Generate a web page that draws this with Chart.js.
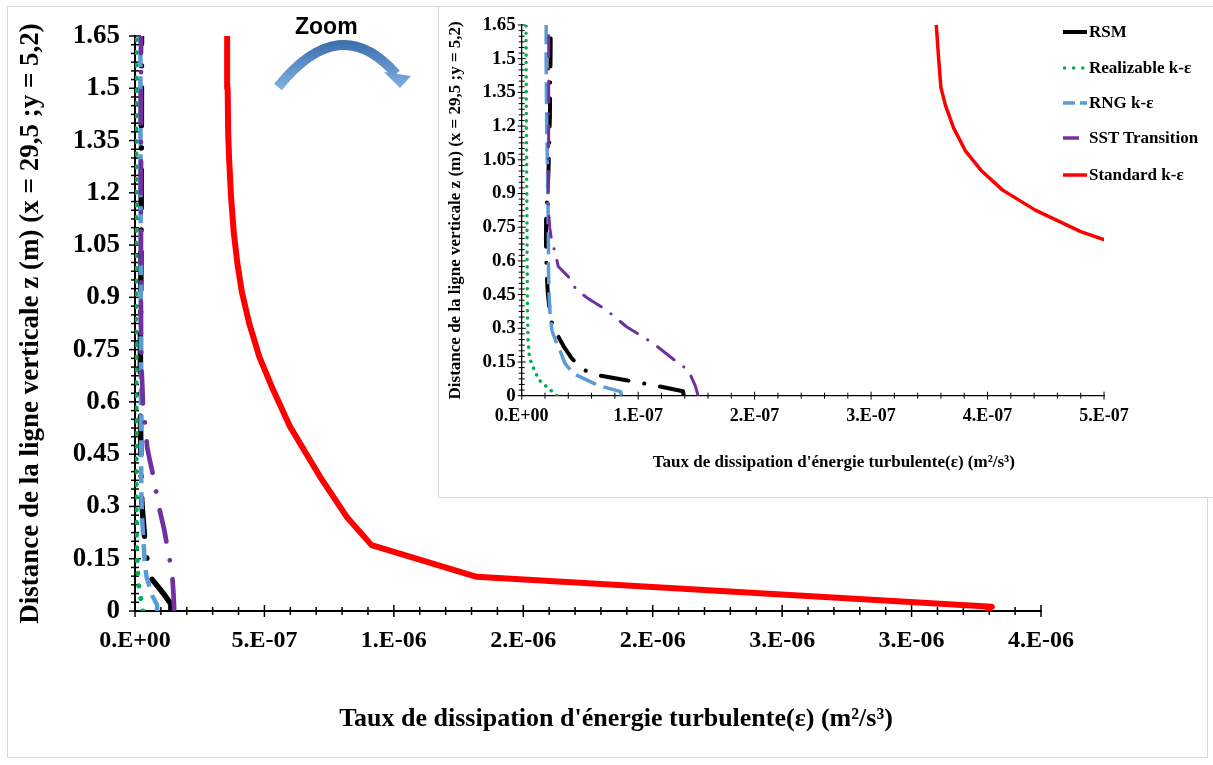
<!DOCTYPE html>
<html>
<head>
<meta charset="utf-8">
<script src="https://cdn.jsdelivr.net/npm/chart.js@4.4.1/dist/chart.umd.min.js"></script>
<style>
  html, body { margin: 0; padding: 0; background: #fff; }
  body { width: 1213px; height: 765px; position: relative; overflow: hidden; }
  #frame { position: absolute; left: 7px; top: 6px; width: 1199px; height: 750px; border: 1px solid #d9d9d9; }
  #main { position: absolute; left: 0; top: 0; }
  #insetBox { position: absolute; left: 438px; top: 6px; width: 774px; height: 490px; border: 1px solid #d9d9d9; background: #fff; }
  #insetBox canvas { position: absolute; left: 0; top: 0; }
  #zoomLabel { position: absolute; left: 295px; top: 15px; font: bold 23px 'Liberation Sans', sans-serif; line-height: 23px; color: #000; }
  #arrow { position: absolute; left: 0; top: 0; }
  #legend { position: absolute; left: 1063px; top: 0; }
  .row { position: absolute; left: 0; height: 20px; display: flex; align-items: center; white-space: nowrap;
         font: bold 17px 'Liberation Serif', serif; color: #000; }
  .row svg { flex: none; }
</style>
</head>
<body>
<div id="frame"></div>
<canvas id="main" width="1213" height="765"></canvas>
<div id="zoomLabel">Zoom</div>
<svg id="arrow" width="450" height="100">
  <defs>
    <linearGradient id="ag" gradientUnits="userSpaceOnUse" x1="0" y1="42" x2="0" y2="88">
      <stop offset="0" stop-color="#3b6fad"/>
      <stop offset="1" stop-color="#7fb0e2"/>
    </linearGradient>
  </defs>
  <path d="M 278 87 Q 340 10 396 74" fill="none" stroke="url(#ag)" stroke-width="10"/>
  <polygon points="384,72 411,76 400,88" fill="url(#ag)"/>
</svg>
<div id="insetBox"><canvas id="inset" width="774" height="490"></canvas></div>
<div id="legend"></div>

<script>
// vertical distance z (m) and dissipation rate eps (m2/s3), one pair per model
const zRSM   = [0, 0.02, 0.045, 0.07, 0.092, 0.117, 0.166, 0.22, 0.277, 0.31, 0.36, 0.45, 0.54, 0.62, 0.7, 0.8, 0.9, 1.0, 1.1, 1.24, 1.39, 1.52, 1.65];
const epsRSM = [1.39e-7, 1.385e-7, 1.15e-7, 0.886e-7, 0.643e-7, 0.523e-7, 0.43e-7, 0.36e-7, 0.30e-7, 0.265e-7, 0.245e-7, 0.225e-7, 0.215e-7, 0.21e-7, 0.208e-7, 0.21e-7, 0.222e-7, 0.23e-7, 0.235e-7, 0.242e-7, 0.245e-7, 0.248e-7, 0.25e-7];

const zReal   = [0, 0.02, 0.04, 0.07, 0.107, 0.17, 0.25, 0.35, 0.5, 0.65, 0.8, 0.95, 1.1, 1.25, 1.4, 1.55, 1.65];
const epsReal = [0.30e-7, 0.26e-7, 0.214e-7, 0.15e-7, 0.114e-7, 0.066e-7, 0.055e-7, 0.05e-7, 0.048e-7, 0.046e-7, 0.045e-7, 0.043e-7, 0.042e-7, 0.04e-7, 0.039e-7, 0.038e-7, 0.037e-7];

const zRNG   = [0, 0.018, 0.045, 0.099, 0.144, 0.2, 0.233, 0.29, 0.35, 0.45, 0.55, 0.65, 0.75, 0.9, 1.05, 1.2, 1.35, 1.5, 1.65];
const epsRNG = [0.857e-7, 0.85e-7, 0.66e-7, 0.443e-7, 0.371e-7, 0.33e-7, 0.30e-7, 0.26e-7, 0.245e-7, 0.235e-7, 0.23e-7, 0.23e-7, 0.228e-7, 0.225e-7, 0.22e-7, 0.215e-7, 0.212e-7, 0.21e-7, 0.21e-7];

const zSST   = [0, 0.045, 0.114, 0.151, 0.188, 0.233, 0.307, 0.35, 0.38, 0.433, 0.47, 0.53, 0.575, 0.64, 0.69, 0.75, 0.83, 0.9, 1.05, 1.2, 1.35, 1.5, 1.65];
const epsSST = [1.515e-7, 1.49e-7, 1.43e-7, 1.33e-7, 1.24e-7, 1.13e-7, 0.9e-7, 0.8e-7, 0.73e-7, 0.57e-7, 0.47e-7, 0.40e-7, 0.314e-7, 0.286e-7, 0.257e-7, 0.24e-7, 0.23e-7, 0.228e-7, 0.23e-7, 0.232e-7, 0.232e-7, 0.232e-7, 0.232e-7];

const zStd   = [0, 0.012, 0.098, 0.189, 0.27, 0.385, 0.457, 0.529, 0.634, 0.73, 0.826, 0.915, 1.0, 1.09, 1.19, 1.29, 1.37, 1.5, 1.65];
const epsStd = [3.285e-6, 3.31e-6, 1.32e-6, 9.14e-7, 8.18e-7, 7.15e-7, 6.57e-7, 5.99e-7, 5.34e-7, 4.80e-7, 4.41e-7, 4.13e-7, 3.95e-7, 3.81e-7, 3.71e-7, 3.64e-7, 3.60e-7, 3.58e-7, 3.56e-7];

const seriesNames = ['RSM', 'Realizable k-ε', 'RNG k-ε', 'SST Transition', 'Standard k-ε'];
const seriesZ = [zRSM, zReal, zRNG, zSST, zStd];
const seriesEps = [epsRSM, epsReal, epsRNG, epsSST, epsStd];

// tick labels (Excel "0.E+00" format)
const yTickLabels = ['0', '0.15', '0.3', '0.45', '0.6', '0.75', '0.9', '1.05', '1.2', '1.35', '1.5', '1.65'];
const mainXTickLabels = ['0.E+00', '5.E-07', '1.E-06', '2.E-06', '2.E-06', '3.E-06', '3.E-06', '4.E-06'];
const insetXTickLabels = ['0.E+00', '1.E-07', '2.E-07', '3.E-07', '4.E-07', '5.E-07'];

const xTitle = "Taux de dissipation d'énergie turbulente(ε) (m²/s³)";
const yTitle = 'Distance de la ligne verticale z (m) (x = 29,5 ;y = 5,2)';

const colors = ['#000000', '#00B050', '#5B9BD5', '#7030A0', '#FF0000'];
const caps = ['round', 'round', 'butt', 'round', 'butt'];
const FONT = "'Liberation Serif', serif";

Chart.defaults.font.family = FONT;
Chart.defaults.color = '#000';

// tick marks crossing the axis line, like Excel "cross" ticks
const crossTicks = {
  id: 'crossTicks',
  beforeDatasetsDraw(chart, args, o) {
    const ctx = chart.ctx;
    ctx.save();
    ctx.strokeStyle = '#000';
    ctx.lineWidth = o.width;
    ['x', 'y'].forEach(id => {
      const s = chart.scales[id];
      const every = id === 'x' ? o.xEvery : o.yEvery;
      s.ticks.forEach((t, i) => {
        const len = i % every === 0 ? o.major : o.minor;
        const p = s.getPixelForValue(t.value);
        ctx.beginPath();
        if (id === 'x') { ctx.moveTo(p, s.top - len); ctx.lineTo(p, s.top + len); }
        else { ctx.moveTo(s.right - len, p); ctx.lineTo(s.right + len, p); }
        ctx.stroke();
      });
    });
    ctx.restore();
  }
};

const xTitlePlugin = {
  id: 'xTitle',
  afterDraw(chart, args, o) {
    const { ctx, chartArea } = chart;
    ctx.save();
    ctx.font = 'bold ' + o.size + 'px ' + FONT;
    ctx.fillStyle = '#000';
    ctx.textAlign = 'center';
    ctx.textBaseline = 'middle';
    ctx.fillText(xTitle, (chartArea.left + chartArea.right) / 2 + o.dx, o.y);
    ctx.restore();
  }
};

const buildDatasets = (widths, dashes) => seriesNames.map((name, i) => ({
  label: name,
  data: seriesZ[i].map((z, j) => ({ x: seriesEps[i][j], y: z })),
  borderColor: colors[i],
  backgroundColor: colors[i],
  borderWidth: widths[i],
  borderDash: dashes[i],
  borderCapStyle: caps[i],
  borderJoinStyle: 'round',
  pointRadius: 0,
  fill: false,
  tension: 0,
  order: 5 - i
}));

const makeChart = (el, c) => new Chart(el, {
  type: 'line',
  data: { datasets: buildDatasets(c.widths, c.dashes) },
  options: {
    responsive: false,
    animation: false,
    layout: { padding: c.padding },
    plugins: {
      legend: { display: false },
      tooltip: { enabled: false },
      crossTicks: { width: c.tickW, major: c.major, minor: c.minor, xEvery: c.xEvery, yEvery: 6 },
      xTitle: { size: c.xTitleSize, dx: c.xTitleDx, y: c.xTitleY }
    },
    scales: {
      x: {
        type: 'linear', min: 0, max: c.xMax,
        grid: { display: false, drawTicks: false },
        border: { display: true, color: '#000', width: c.axisW },
        ticks: {
          stepSize: c.xStep, autoSkip: false, maxRotation: 0, minRotation: 0, padding: c.xPad,
          font: { size: c.xFont, weight: 'bold' },
          callback: (v, i) => i % c.xEvery === 0 ? c.xLabels[i / c.xEvery] : ''
        },
        afterFit: s => { s.height = c.xHeight; }
      },
      y: {
        type: 'linear', min: 0, max: 1.65,
        grid: { display: false, drawTicks: false },
        border: { display: true, color: '#000', width: c.axisW },
        ticks: {
          stepSize: 0.025, autoSkip: false, padding: c.yPad,
          font: { size: c.yFont, weight: 'bold' },
          callback: (v, i) => i % 6 === 0 ? yTickLabels[i / 6] : ''
        },
        title: { display: true, text: yTitle, font: { size: c.yTitleSize, weight: 'bold' }, padding: { top: c.yTitlePad, bottom: 0 } },
        afterFit: s => { s.width = c.yWidth; }
      }
    }
  },
  plugins: [crossTicks, xTitlePlugin]
});

makeChart(document.getElementById('main'), {
  widths: [5.5, 5, 4.5, 4.7, 6],
  dashes: [[38, 22, 0.1, 22], [0.1, 12.6], [17, 9], [32, 19, 0.1, 19], []],
  padding: { top: 36, right: 172, left: 0, bottom: 0 },
  xMax: 3.5e-6, xStep: 1e-7, xEvery: 5, xLabels: mainXTickLabels,
  xFont: 24, xPad: 15, xHeight: 154,
  yFont: 27, yPad: 15, yWidth: 135,
  yTitleSize: 27, yTitlePad: 15,
  xTitleSize: 26, xTitleDx: 28, xTitleY: 719,
  axisW: 2, tickW: 1.5, major: 6, minor: 4
});

makeChart(document.getElementById('inset'), {
  widths: [4, 3.5, 3.5, 3, 3.5],
  dashes: [[28, 16, 0.1, 16], [0.1, 7.2], [22, 8], [21, 12, 0.1, 12], []],
  padding: { top: 18, right: 109, left: 0, bottom: 0 },
  xMax: 5e-7, xStep: 2e-8, xEvery: 5, xLabels: insetXTickLabels,
  xFont: 18, xPad: 10, xHeight: 101.3,
  yFont: 19, yPad: 6, yWidth: 82.7,
  yTitleSize: 17, yTitlePad: 6,
  xTitleSize: 17, xTitleDx: 21, xTitleY: 456,
  axisW: 1.3, tickW: 1, major: 4, minor: 3
});

// legend of the inset, drawn as small svg line samples
const legendRowsY = [31.7, 68.3, 103.3, 138.3, 175];
const legendSamples = [
  '<line x1="0" y1="5" x2="24" y2="5" stroke="#000" stroke-width="4"/>',
  '<line x1="1.5" y1="5" x2="24" y2="5" stroke="#00B050" stroke-width="3.5" stroke-dasharray="0.1 9" stroke-linecap="round"/>',
  '<line x1="0" y1="5" x2="24" y2="5" stroke="#5B9BD5" stroke-width="3.5" stroke-dasharray="12 5"/>',
  '<line x1="0" y1="5" x2="16" y2="5" stroke="#7030A0" stroke-width="3.5"/>',
  '<line x1="0" y1="5" x2="24" y2="5" stroke="#FF0000" stroke-width="3.5"/>'
];
const legend = document.getElementById('legend');
seriesNames.forEach((name, i) => {
  const row = document.createElement('div');
  row.className = 'row';
  row.style.top = (legendRowsY[i] - 10) + 'px';
  row.innerHTML = '<svg width="26" height="10">' + legendSamples[i] + '</svg><span>' + name + '</span>';
  legend.appendChild(row);
});
</script>
</body>
</html>
